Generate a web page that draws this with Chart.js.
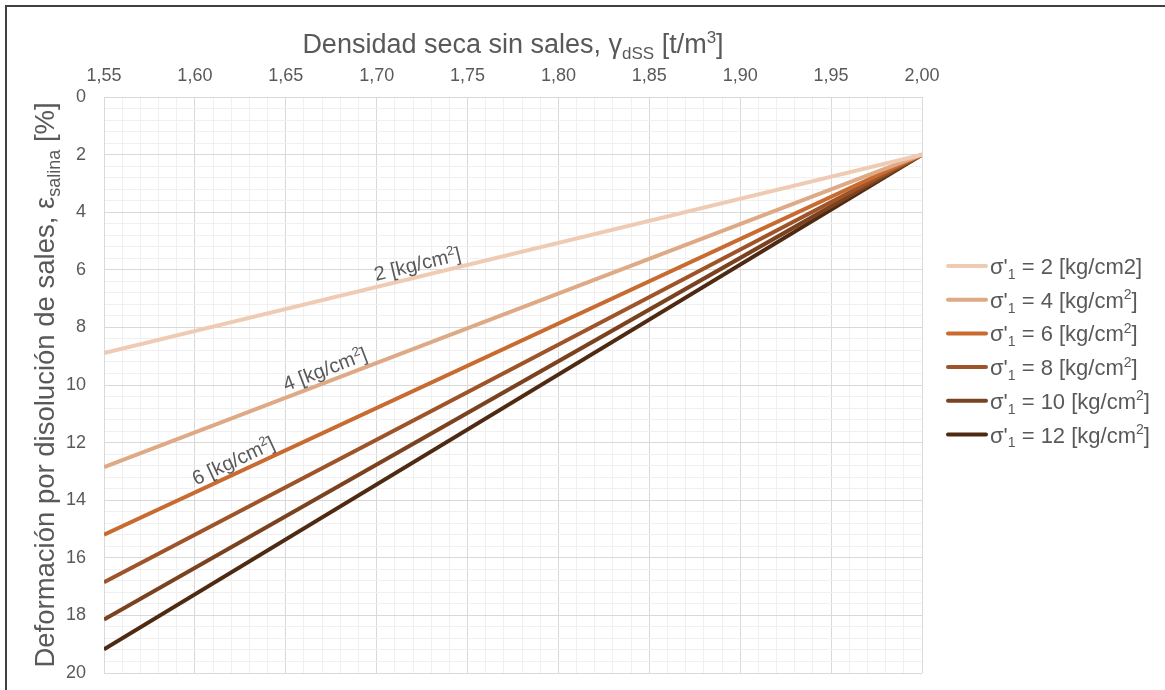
<!DOCTYPE html>
<html>
<head>
<meta charset="utf-8">
<script src="https://cdn.jsdelivr.net/npm/chart.js@4.4.0/dist/chart.umd.min.js"></script>
<style>
  html, body { margin: 0; padding: 0; background: #fff; overflow: hidden; }
  #wrap { position: relative; width: 1165px; height: 690px; }
  #frame { position: absolute; left: 5px; top: 5px; width: 1200px; height: 700px;
           border: 2px solid #404040; pointer-events: none; }
</style>
</head>
<body>
<div id="wrap">
  <canvas id="chart" width="1165" height="690"></canvas>
  <div id="frame"></div>
</div>
<script>
// Dry density without salts (x) and salt-dissolution strain (y) for each stress level
const densities = [1.55, 2.00];
const strain2 = [8.89, 2.0];
const strain4 = [12.85, 2.0];
const strain6 = [15.2, 2.0];
const strain8 = [16.85, 2.0];
const strain10 = [18.14, 2.0];
const strain12 = [19.18, 2.0];

const stressLevels = ['2', '4', '6', '8', '10', '12'];
const seriesValues = [strain2, strain4, strain6, strain8, strain10, strain12];
const seriesColors = ['#EFCBB3', '#DEA985', '#C96B30', '#9E5428', '#7B4220', '#4F2A13'];

// Inline labels drawn along the first three lines
const lineLabels = [
  { series: 0, at: 1.724 },
  { series: 1, at: 1.674 },
  { series: 2, at: 1.624 }
];

const textColor = '#595959';
const fontFamily = "'Liberation Sans', Arial, sans-serif";

function partFont(p, size) {
  return (p.s ? Math.round(size * 0.64) : size) + 'px ' + fontFamily;
}

// Draw text made of normal / sub / sup pieces; centred on the origin unless left = true
function drawRich(ctx, parts, size, left) {
  let w = 0;
  parts.forEach(p => { ctx.font = partFont(p, size); w += ctx.measureText(p.t).width; });
  let x = left ? 0 : -w / 2;
  parts.forEach(p => {
    ctx.font = partFont(p, size);
    const dy = p.s === 'sub' ? size * 0.22 : (p.s === 'sup' ? -size * 0.38 : 0);
    ctx.fillText(p.t, x, dy);
    x += ctx.measureText(p.t).width;
  });
}

function legendParts(i) {
  const head = [{ t: "σ'" }, { t: '1', s: 'sub' }, { t: ' = ' + stressLevels[i] + ' [kg/cm' }];
  // the first entry keeps a plain "cm2"
  return i === 0 ? head.concat([{ t: '2]' }]) : head.concat([{ t: '2', s: 'sup' }, { t: ']' }]);
}

const richText = {
  id: 'richText',
  afterDatasetsDraw(chart) {
    const ctx = chart.ctx;
    const xs = chart.scales.x, ys = chart.scales.y;
    ctx.save();
    ctx.fillStyle = textColor;
    ctx.textBaseline = 'alphabetic';
    ctx.textAlign = 'left';
    lineLabels.forEach(lbl => {
      const vals = seriesValues[lbl.series];
      const x0 = xs.getPixelForValue(densities[0]), y0 = ys.getPixelForValue(vals[0]);
      const x1 = xs.getPixelForValue(densities[1]), y1 = ys.getPixelForValue(vals[1]);
      const f = (lbl.at - densities[0]) / (densities[1] - densities[0]);
      const v = vals[0] + (vals[1] - vals[0]) * f;
      ctx.save();
      ctx.translate(xs.getPixelForValue(lbl.at), ys.getPixelForValue(v));
      ctx.rotate(Math.atan2(y1 - y0, x1 - x0));
      ctx.translate(0, -6);
      drawRich(ctx, [{ t: stressLevels[lbl.series] + ' [kg/cm' }, { t: '2', s: 'sup' }, { t: ']' }], 20);
      ctx.restore();
    });
    ctx.restore();
  },
  afterDraw(chart) {
    const ctx = chart.ctx;
    const area = chart.chartArea;
    ctx.save();
    ctx.fillStyle = textColor;
    ctx.textBaseline = 'alphabetic';
    ctx.textAlign = 'left';
    // top axis title
    ctx.save();
    ctx.translate((area.left + area.right) / 2, 53);
    drawRich(ctx, [
      { t: 'Densidad seca sin sales, γ' }, { t: 'dSS', s: 'sub' },
      { t: ' [t/m' }, { t: '3', s: 'sup' }, { t: ']' }
    ], 27);
    ctx.restore();
    // left axis title
    ctx.save();
    ctx.translate(54, (area.top + area.bottom) / 2);
    ctx.rotate(-Math.PI / 2);
    drawRich(ctx, [
      { t: 'Deformación por disolución de sales, ε' }, { t: 'salina', s: 'sub' }, { t: ' [%]' }
    ], 27.5);
    ctx.restore();
    // legend on the right
    const lx = area.right + 26, rowH = 33.7, firstY = 266;
    chart.data.datasets.forEach((ds, i) => {
      const y = firstY + i * rowH;
      ctx.strokeStyle = ds.borderColor;
      ctx.lineWidth = ds.borderWidth;
      ctx.lineCap = 'round';
      ctx.beginPath();
      ctx.moveTo(lx, y);
      ctx.lineTo(lx + 38, y);
      ctx.stroke();
      ctx.save();
      ctx.translate(lx + 42, y + 8);
      drawRich(ctx, legendParts(i), 22, true);
      ctx.restore();
    });
    ctx.restore();
  }
};

const isMajorX = v => Math.round(v * 100) % 5 === 0;
const isMajorY = v => Math.abs(v / 2 - Math.round(v / 2)) < 1e-6;

const datasets = seriesValues.map((vals, i) => ({
  label: "σ'1 = " + stressLevels[i] + ' [kg/cm2]',
  data: densities.map((d, j) => ({ x: d, y: vals[j] })),
  borderColor: seriesColors[i],
  backgroundColor: seriesColors[i],
  borderWidth: 4,
  pointRadius: 0,
  tension: 0,
  fill: false
}));

const ctx = document.getElementById('chart').getContext('2d');
new Chart(ctx, {
  type: 'line',
  data: { datasets: datasets },
  plugins: [richText],
  options: {
    responsive: false,
    animation: false,
    layout: { padding: { left: 0, right: 243, top: 0, bottom: 17 } },
    plugins: {
      tooltip: { enabled: false },
      legend: { display: false }
    },
    scales: {
      x: {
        type: 'linear',
        position: 'top',
        min: 1.55,
        max: 2.00,
        afterFit: s => { s.height = 97; s.paddingLeft = 0; s.paddingRight = 0; },
        border: { color: '#D9D9D9' },
        grid: {
          drawTicks: false,
          color: c => (c.tick && isMajorX(c.tick.value)) ? '#D9D9D9' : '#F0F0F0'
        },
        ticks: {
          stepSize: 0.01,
          autoSkip: false,
          maxRotation: 0,
          padding: 10,
          color: textColor,
          font: { family: fontFamily, size: 18 },
          callback: v => isMajorX(v) ? v.toFixed(2).replace('.', ',') : ''
        }
      },
      y: {
        type: 'linear',
        reverse: true,
        min: 0,
        max: 20,
        afterFit: s => { s.width = 104; s.paddingTop = 0; s.paddingBottom = 0; },
        border: { color: '#D9D9D9' },
        grid: {
          drawTicks: false,
          color: c => (c.tick && isMajorY(c.tick.value)) ? '#D9D9D9' : '#F0F0F0'
        },
        ticks: {
          stepSize: 0.4,
          autoSkip: false,
          padding: 18,
          color: textColor,
          font: { family: fontFamily, size: 18 },
          callback: v => isMajorY(v) ? String(Math.round(v)) : ''
        }
      }
    }
  }
});
</script>
</body>
</html>
